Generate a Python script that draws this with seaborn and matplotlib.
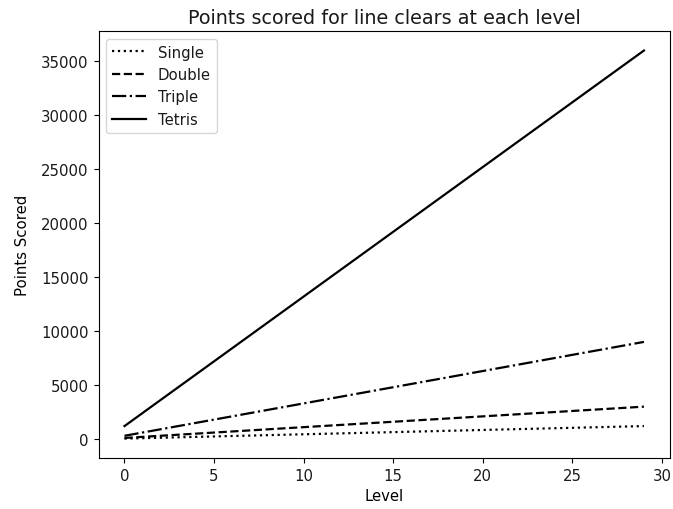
import matplotlib
matplotlib.use("Agg")
import matplotlib.pyplot as plt
import seaborn as sns
import pandas as pd

levels = [0, 1, 2, 3, 4, 5, 6, 7, 8, 9, 10, 11, 12, 13, 14, 15, 16, 17, 18, 19,
          20, 21, 22, 23, 24, 25, 26, 27, 28, 29]
single = [40, 80, 120, 160, 200, 240, 280, 320, 360, 400, 440, 480, 520, 560, 600,
          640, 680, 720, 760, 800, 840, 880, 920, 960, 1000, 1040, 1080, 1120, 1160, 1200]
double = [100, 200, 300, 400, 500, 600, 700, 800, 900, 1000, 1100, 1200, 1300, 1400, 1500,
          1600, 1700, 1800, 1900, 2000, 2100, 2200, 2300, 2400, 2500, 2600, 2700, 2800, 2900, 3000]
triple = [300, 600, 900, 1200, 1500, 1800, 2100, 2400, 2700, 3000, 3300, 3600, 3900, 4200, 4500,
          4800, 5100, 5400, 5700, 6000, 6300, 6600, 6900, 7200, 7500, 7800, 8100, 8400, 8700, 9000]
tetris = [1200, 2400, 3600, 4800, 6000, 7200, 8400, 9600, 10800, 12000, 13200, 14400, 15600,
          16800, 18000, 19200, 20400, 21600, 22800, 24000, 25200, 26400, 27600, 28800, 30000,
          31200, 32400, 33600, 34800, 36000]

series = [("Single", single, ":"), ("Double", double, "--"),
          ("Triple", triple, "-."), ("Tetris", tetris, "-")]

plt.rcParams["font.size"] = 10.7
plt.rcParams["text.color"] = "#1a1a1a"
plt.rcParams["xtick.labelcolor"] = "#1a1a1a"
plt.rcParams["ytick.labelcolor"] = "#1a1a1a"

fig = plt.figure(figsize=(6.73, 5.10), dpi=100)
ax = fig.add_axes([0.1464, 0.100, 0.849, 0.837])
for name, vals, ls in series:
    df = pd.DataFrame({"Level": levels, "Points": vals})
    sns.lineplot(data=df, x="Level", y="Points", ax=ax, color="black",
                 linestyle=ls, label=name, linewidth=1.6)
ax.set_title("Points scored for line clears at each level", fontsize=13.8)
ax.set_xlabel("Level", fontsize=10.7)
ax.set_ylabel("Points Scored", fontsize=10.7, labelpad=8)
ax.tick_params(labelsize=10.7)
ax.legend(loc="upper left", fontsize=10.7, handlelength=2.3)
fig.savefig("out.png", dpi=100)
